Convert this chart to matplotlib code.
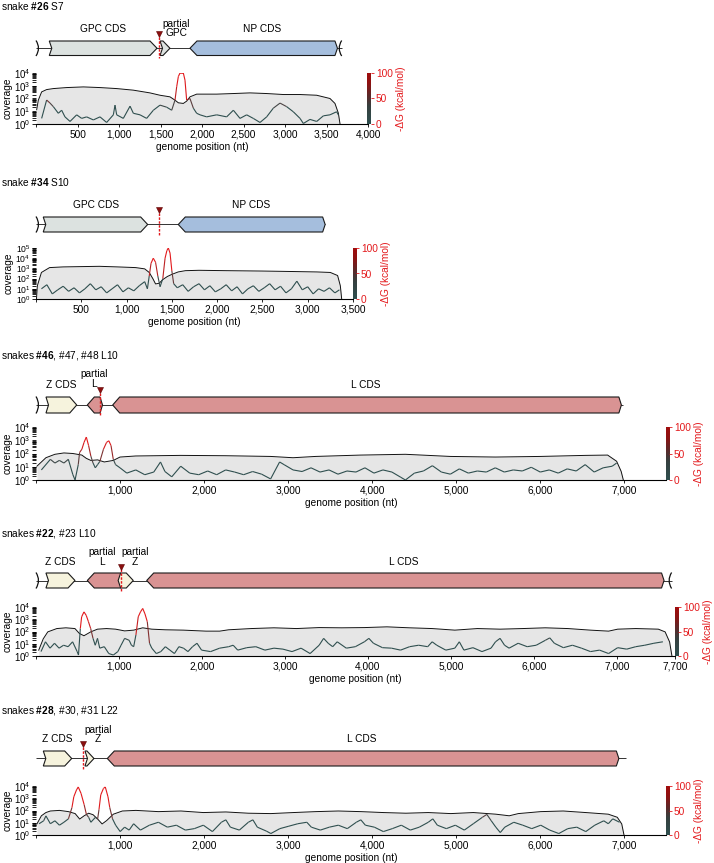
import numpy as np
import matplotlib
matplotlib.use("Agg")
import matplotlib.pyplot as plt
from matplotlib.collections import LineCollection
from matplotlib.colors import LinearSegmentedColormap, Normalize
from matplotlib.patches import Polygon, PathPatch
from matplotlib.path import Path
from matplotlib.ticker import LogLocator, NullFormatter

plt.rcParams['font.family'] = ['Liberation Sans', 'DejaVu Sans']
plt.rcParams['mathtext.fontset'] = 'custom'
plt.rcParams['mathtext.rm'] = 'Liberation Sans'
plt.rcParams['mathtext.bf'] = 'Liberation Sans:bold'
plt.rcParams['mathtext.it'] = 'Liberation Sans:italic'

# ======================= DATA =======================
GPC_C, NP_C, Z_C, L_C = '#dce2e0', '#a5bedd', '#f6f3dd', '#d99393'

# ---- panel 1: snake #26 S7 ----
p1_title = r"snake $\mathbf{\#26}$ S7"
p1_xmax = 4000
p1_ymax = 1e4
p1_xticks = [0, 500, 1000, 1500, 2000, 2500, 3000, 3500, 4000]
p1_xticklabels = ['', '500', '1,000', '1,500', '2,000', '2,500', '3,000', '3,500', '4,000']
p1_cds_start = [160, 1494, 1855]
p1_cds_end = [1458, 1614, 3602]
p1_cds_strand = [1, 1, -1]
p1_cds_colour = [GPC_C, GPC_C, NP_C]
p1_cds_tail = [1, 1, 1]
p1_labels = ['GPC CDS', 'partial\nGPC', 'NP CDS']
p1_label_pos = [809, 1687, 2728]
p1_genome_end = 3683
p1_paren_pos = [0, 3683]
p1_paren_dir = [1, -1]
p1_marker = [1482]
p1_cov_pos = [8, 28, 68, 128, 209, 369, 570, 771, 972, 1173, 1373, 1494, 1614, 1675, 1715,
              1775, 1815, 1855, 1936, 2177, 2378, 2578, 2779, 2980, 3181, 3382, 3542, 3602,
              3643, 3663]
p1_cov_val = [13, 74, 330, 500, 600, 720, 810, 720, 600, 450, 275, 180, 135, 74, 46,
              41, 62, 135, 220, 220, 245, 275, 245, 205, 205, 180, 100, 41, 7, 1]
p1_dg_pos = [68, 128, 169, 209, 269, 309, 349, 410, 490, 550, 610, 691, 771, 851, 932, 952,
             972, 1052, 1133, 1173, 1253, 1333, 1414, 1494, 1574, 1635, 1675, 1695, 1715, 1735,
             1755, 1775, 1795, 1815, 1855, 1896, 1936, 1976, 2056, 2177, 2297, 2378, 2458,
             2538, 2618, 2699, 2779, 2859, 2940, 3020, 3100, 3181, 3221, 3301, 3382, 3462,
             3542, 3622, 3643]
p1_dg_val = [11, 47, 41, 34, 21, 27, 14, 5, 18, 11, 14, 8, 14, 3, 18, 37,
             18, 11, 35, 21, 18, 11, 27, 37, 33, 27, 47, 73, 93, 100,
             99, 100, 86, 47, 50, 31, 21, 18, 14, 18, 14, 27, 11,
             18, 11, 3, 14, 31, 41, 34, 24, 11, 1, 9, 5, 16,
             18, 24, 18]

# ---- panel 2: snake #34 S10 ----
p2_title = r"snake $\mathbf{\#34}$ S10"
p2_xmax = 3500
p2_ymax = 1e5
p2_xticks = [0, 500, 1000, 1500, 2000, 2500, 3000, 3500]
p2_xticklabels = ['', '500', '1,000', '1,500', '2,000', '2,500', '3,000', '3,500']
p2_cds_start = [80, 1571]
p2_cds_end = [1233, 3165]
p2_cds_strand = [1, -1]
p2_cds_colour = [GPC_C, NP_C]
p2_cds_tail = [1, 1]
p2_labels = ['GPC CDS', 'NP CDS']
p2_label_pos = [659, 2370]
p2_genome_end = 3190
p2_paren_pos = [0]
p2_paren_dir = [1]
p2_marker = [1357]
p2_cov_pos = [5, 15, 60, 150, 300, 500, 700, 900, 1100, 1200, 1250, 1290, 1320, 1360, 1400,
              1450, 1500, 1570, 1650, 1800, 2100, 2500, 2800, 3100, 3250, 3330, 3360, 3375]
p2_cov_val = [1, 20, 400, 1200, 1400, 1500, 1600, 1400, 1200, 900, 400, 100, 30, 35, 80,
              160, 260, 450, 600, 650, 600, 550, 500, 450, 400, 200, 20, 1]
p2_dg_pos = [60, 120, 180, 240, 300, 360, 420, 480, 540, 600, 660, 720, 780, 840, 900, 960,
             1020, 1080, 1140, 1200, 1230, 1250, 1270, 1295, 1320, 1345, 1370, 1400, 1425,
             1445, 1461, 1480, 1500, 1520, 1560, 1620, 1680, 1740, 1800, 1860, 1920, 1980,
             2040, 2100, 2160, 2220, 2280, 2340, 2400, 2460, 2520, 2580, 2640, 2700, 2760,
             2820, 2880, 2940, 3000, 3060, 3120, 3180, 3240, 3300, 3350]
p2_dg_val = [20, 28, 10, 18, 25, 15, 22, 12, 20, 30, 18, 24, 12, 20, 28, 14,
             22, 16, 26, 34, 20, 45, 70, 80, 72, 45, 24, 40, 80,
             95, 100, 90, 55, 30, 22, 28, 15, 24, 30, 18, 26, 14,
             20, 28, 16, 24, 10, 20, 26, 15, 22, 30, 18, 25, 12,
             20, 35, 18, 24, 10, 20, 15, 22, 12, 18]

# ---- panel 3: snakes #46, #47, #48 L10 ----
p3_title = r"snakes $\mathbf{\#46}$, #47, #48 L10"
p3_xmax = 7500
p3_ymax = 1e4
p3_xticks = [0, 1000, 2000, 3000, 4000, 5000, 6000, 7000]
p3_xticklabels = ['', '1,000', '2,000', '3,000', '4,000', '5,000', '6,000', '7,000']
p3_cds_start = [119, 611, 913]
p3_cds_end = [485, 762, 6939]
p3_cds_strand = [1, -1, -1]
p3_cds_colour = [Z_C, L_C, L_C]
p3_cds_tail = [1, 1, 1]
p3_labels = ['Z CDS', 'partial\nL', 'L CDS']
p3_label_pos = [295, 690, 3926]
p3_genome_end = 6992
p3_paren_pos = [0]
p3_paren_dir = [1]
p3_marker = [762]
p3_cov_pos = [11, 118, 225, 332, 439, 546, 599, 653, 733, 813, 920, 1000, 1188, 1723, 2258,
              2793, 3060, 3328, 3863, 4398, 4933, 5468, 6003, 6538, 6805, 6912, 6966, 6992]
p3_cov_val = [11, 48, 87, 110, 100, 76, 43, 30, 33, 23, 30, 54, 65, 72, 68,
              60, 48, 60, 76, 87, 60, 54, 60, 72, 76, 26, 4.5, 1]
p3_dg_pos = [64, 171, 225, 278, 332, 385, 439, 465, 503, 519, 546, 572, 599, 626, 653, 679,
             706, 733, 760, 803, 840, 867, 893, 920, 947, 1000, 1081, 1188, 1295, 1402, 1482,
             1535, 1616, 1723, 1830, 1937, 2044, 2151, 2258, 2365, 2472, 2579, 2686, 2793,
             2900, 2953, 3060, 3167, 3274, 3381, 3488, 3595, 3702, 3809, 3916, 4023, 4130,
             4237, 4344, 4398, 4505, 4612, 4719, 4826, 4933, 5040, 5147, 5254, 5361, 5468,
             5575, 5682, 5789, 5896, 6003, 6110, 6217, 6324, 6431, 6538, 6645, 6752, 6859,
             6912]
p3_dg_val = [19, 39, 32, 37, 32, 39, 10, 0, 29, 52, 58, 71, 81, 65, 45, 32,
             23, 29, 35, 58, 71, 74, 65, 39, 29, 23, 13, 19, 10, 15, 34,
             16, 6, 26, 13, 10, 17, 10, 19, 15, 10, 16, 11, 2,
             34, 29, 19, 16, 23, 15, 19, 11, 17, 15, 23, 13, 19,
             15, 5, 0, 13, 17, 27, 15, 11, 21, 13, 17, 15, 23,
             15, 19, 17, 24, 15, 19, 13, 21, 17, 29, 15, 23, 26,
             32]

# ---- panel 4: snakes #22, #23 L10 ----
p4_title = r"snakes $\mathbf{\#22}$, #23 L10"
p4_xmax = 7700
p4_ymax = 1e4
p4_xticks = [0, 1000, 2000, 3000, 4000, 5000, 6000, 7000, 7700]
p4_xticklabels = ['', '1,000', '2,000', '3,000', '4,000', '5,000', '6,000', '7,000', '7,700']
p4_cds_start = [120, 618, 1020, 1334]
p4_cds_end = [470, 1020, 1172, 7538]
p4_cds_strand = [1, -1, 1, -1]
p4_cds_colour = [Z_C, L_C, Z_C, L_C]
p4_cds_tail = [1, 1, -1, 1]
p4_labels = ['Z CDS', 'partial\nL', 'partial\nZ', 'L CDS']
p4_label_pos = [295, 799, 1193, 4436]
p4_genome_end = 7659
p4_paren_pos = [0, 7659]
p4_paren_dir = [1, -1]
p4_marker = [1020]
p4_cov_pos = [33, 87, 142, 251, 360, 469, 523, 578, 659, 741, 850, 959, 1068, 1177, 1286,
              1395, 1559, 1777, 2049, 2213, 2322, 2594, 2867, 3139, 3412, 3684, 3957, 4229,
              4502, 4774, 5047, 5319, 5592, 5864, 6137, 6409, 6682, 6900, 7009, 7227, 7499,
              7581, 7635, 7663]
p4_cov_val = [3, 25, 93, 174, 200, 174, 69, 45, 93, 155, 174, 155, 112, 129, 200,
              155, 138, 129, 107, 107, 138, 174, 200, 174, 209, 200, 209, 240,
              200, 174, 129, 174, 155, 174, 200, 174, 129, 107, 155, 174, 155,
              93, 14, 1]
p4_dg_pos = [60, 114, 169, 223, 278, 332, 387, 441, 496, 512, 534, 550, 578, 605, 632, 659,
             687, 714, 741, 768, 823, 877, 932, 986, 1025, 1068, 1123, 1150, 1177, 1204,
             1232, 1259, 1286, 1313, 1341, 1368, 1395, 1450, 1504, 1559, 1613, 1668, 1722,
             1777, 1831, 1886, 1940, 1995, 2104, 2213, 2322, 2376, 2431, 2540, 2649, 2758,
             2867, 2976, 3085, 3194, 3303, 3412, 3466, 3521, 3575, 3630, 3739, 3848, 3957,
             4011, 4066, 4175, 4284, 4393, 4502, 4611, 4720, 4774, 4829, 4938, 5047, 5101,
             5156, 5265, 5374, 5483, 5537, 5592, 5646, 5701, 5810, 5919, 6028, 6137, 6191,
             6246, 6355, 6464, 6573, 6682, 6791, 6900, 7009, 7118, 7227, 7336, 7445, 7554]
p4_dg_val = [9, 29, 16, 26, 16, 22, 19, 29, 9, 2, 56, 80, 90, 83, 70, 56,
             36, 22, 36, 16, 19, 5, 2, 9, 22, 36, 32, 22, 19, 43,
             80, 90, 97, 86, 70, 26, 16, 5, 9, 19, 12, 5, 19,
             16, 9, 19, 26, 12, 9, 16, 19, 22, 12, 17, 19, 12,
             16, 14, 9, 16, 5, 22, 36, 26, 19, 29, 16, 19, 29,
             36, 26, 17, 16, 12, 19, 22, 19, 29, 22, 12, 16, 29,
             12, 17, 9, 16, 29, 36, 22, 16, 26, 19, 22, 32, 37,
             26, 17, 22, 16, 9, 12, 5, 17, 14, 19, 22, 26, 29]

# ---- panel 5: snakes #28, #30, #31 L22 ----
p5_title = r"snakes $\mathbf{\#28}$, #30, #31 L22"
p5_xmax = 7500
p5_ymax = 1e4
p5_xticks = [0, 1000, 2000, 3000, 4000, 5000, 6000, 7000]
p5_xticklabels = ['', '1,000', '2,000', '3,000', '4,000', '5,000', '6,000', '7,000']
p5_cds_start = [87, 583, 849]
p5_cds_end = [425, 690, 6909]
p5_cds_strand = [1, 1, -1]
p5_cds_colour = [Z_C, Z_C, L_C]
p5_cds_tail = [1, 1, 1]
p5_labels = ['Z CDS', 'partial\nZ', 'L CDS']
p5_label_pos = [256, 735, 3879]
p5_genome_end = 7027
p5_paren_pos = []
p5_paren_dir = []
p5_marker = [563]
p5_cov_pos = [11, 64, 118, 171, 279, 386, 466, 520, 573, 627, 680, 734, 787, 841, 921, 1028,
              1189, 1457, 1725, 1992, 2260, 2528, 2796, 3064, 3331, 3599, 3867, 4135, 4403,
              4670, 4938, 5206, 5474, 5634, 5742, 6009, 6277, 6545, 6813, 6920, 6973, 7000]
p5_cov_val = [8, 37, 68, 91, 102, 81, 56, 20, 37, 60, 45, 20, 8, 15, 50, 91,
              102, 81, 91, 68, 76, 60, 56, 68, 81, 91, 81, 68, 60,
              68, 56, 68, 50, 37, 56, 81, 91, 68, 50, 28, 8, 1]
p5_dg_pos = [37, 91, 118, 171, 225, 279, 332, 386, 428, 450, 482, 503, 536, 573, 600, 627,
             653, 707, 734, 750, 771, 803, 825, 857, 878, 911, 948, 1002, 1055, 1109, 1162,
             1243, 1350, 1457, 1564, 1671, 1778, 1885, 1992, 2100, 2207, 2260, 2314, 2421,
             2528, 2582, 2635, 2742, 2796, 2903, 3010, 3117, 3224, 3278, 3385, 3492, 3599,
             3706, 3813, 3867, 3921, 4028, 4135, 4242, 4349, 4456, 4563, 4670, 4724, 4778,
             4885, 4992, 5099, 5206, 5313, 5367, 5420, 5474, 5527, 5581, 5688, 5795, 5902,
             6009, 6116, 6224, 6331, 6438, 6545, 6652, 6759, 6813, 6866, 6947]
p5_dg_val = [23, 29, 39, 23, 29, 20, 26, 33, 56, 78, 92, 98, 85, 62, 42, 36,
             26, 36, 33, 52, 82, 95, 98, 78, 56, 33, 20, 7, 16, 10, 23,
             10, 20, 26, 16, 20, 10, 13, 20, 7, 26, 31, 16, 10,
             26, 31, 16, 8, 3, 13, 18, 23, 26, 16, 10, 16, 20,
             13, 26, 31, 20, 16, 7, 13, 20, 10, 16, 26, 33, 20,
             13, 20, 10, 23, 36, 42, 29, 16, 5, 16, 26, 20, 13,
             20, 10, 3, 13, 16, 7, 20, 29, 23, 33, 26]

# ======================= LAYOUT (pixels) =======================
W, H = 714, 863
FS = 7.3
YFS = [6.9, 6.2, 6.9, 6.9, 6.9]
RED = '#e3191c'
LAYOUT = [
    dict(x0=36, x1=368, title=6, label_ys=[28.5, 28.5, 28.5], at=41, ab=55.5, ct=73, cb=124),
    dict(x0=36, x1=353, title=182, label_ys=[205, 205], at=217, ab=232, ct=248, cb=299),
    dict(x0=36, x1=666, title=355, label_ys=[385, 379, 385], at=397, ab=413, ct=427, cb=480),
    dict(x0=36, x1=675, title=533, label_ys=[562, 557, 557, 562], at=573, ab=588, ct=607, cb=656),
    dict(x0=36, x1=666, title=710, label_ys=[739, 734.5, 739], at=751, ab=766, ct=786, cb=835),
]

g = globals()
PANELS = []
for i in range(1, 6):
    keys = ['title', 'xmax', 'ymax', 'xticks', 'xticklabels', 'cds_start', 'cds_end', 'cds_strand',
            'cds_colour', 'cds_tail', 'labels', 'label_pos', 'genome_end', 'paren_pos', 'paren_dir',
            'marker', 'cov_pos', 'cov_val', 'dg_pos', 'dg_val']
    PANELS.append({k: g[f'p{i}_{k}'] for k in keys})

cmap = LinearSegmentedColormap.from_list(
    'dg', [(0, '#2f4f4f'), (0.32, '#2f4f4f'), (0.5, '#8e2b2b'), (0.68, '#e3191c'), (1, '#e3191c')])
cbar_cmap = LinearSegmentedColormap.from_list(
    'dgbar', [(0, '#2f4f4f'), (0.35, '#36403f'), (0.55, '#5a2a2a'), (0.8, '#8e1212'), (1, '#a00d0d')])
norm = Normalize(0, 100)

fig = plt.figure(figsize=(W / 100, H / 100), dpi=100)


def fig_rect(x0, y0, x1, y1):
    return [x0 / W, 1 - y1 / H, (x1 - x0) / W, (y1 - y0) / H]


def cds_poly(start, end, strand, tail, top, bot, head, notch):
    mid = (top + bot) / 2
    if strand > 0:
        hx = max(end - head, start)
        return [(start, top), (hx, top), (end, mid), (hx, bot), (start, bot), (start + tail * notch, mid)]
    hx = min(start + head, end)
    return [(start, mid), (hx, top), (end, top), (end + tail * notch, mid), (end, bot), (hx, bot)]


def draw_panel(D, L, yfs):
    x0, x1, xmax = L['x0'], L['x1'], D['xmax']
    ntpx = xmax / (x1 - x0)
    fig.text(1 / W, 1 - L['title'] / H, D['title'], fontsize=FS, ha='left', va='center')

    # ---- gene map ----
    gt, gb = min(L['label_ys']) - 14, L['ab'] + 8
    gax = fig.add_axes(fig_rect(x0, gt, x1, gb))
    gax.set_xlim(0, xmax)
    gax.set_ylim(gb, gt)
    gax.axis('off')
    top, bot = L['at'], L['ab']
    mid = (top + bot) / 2
    gax.plot([0, D['genome_end']], [mid, mid], color='#333333', lw=0.7,
             solid_capstyle='butt', zorder=1)
    d = 2.5 * ntpx
    for xp, sd in zip(D['paren_pos'], D['paren_dir']):
        path = Path([(xp, top - 0.5), (xp + sd * 2 * d, mid), (xp, bot + 0.5)],
                    [Path.MOVETO, Path.CURVE3, Path.CURVE3])
        gax.add_patch(PathPatch(path, fc='none', ec='#111111', lw=0.9, clip_on=False, zorder=3))
    for s, e, st, c, t in zip(D['cds_start'], D['cds_end'], D['cds_strand'],
                              D['cds_colour'], D['cds_tail']):
        poly = cds_poly(s, e, st, t, top, bot, 7 * ntpx, 2.5 * ntpx)
        gax.add_patch(Polygon(poly, closed=True, fc=c, ec='#1a1a1a', lw=0.8,
                              joinstyle='miter', zorder=2))
    for txt, xp, yp in zip(D['labels'], D['label_pos'], L['label_ys']):
        gax.text(xp, yp, txt, ha='center', va='center', fontsize=FS, linespacing=0.95)
    for m in D['marker']:
        gax.plot([m, m], [top - 4, bot + 3], color=RED, lw=1.0, ls=(0, (1.8, 1.0)), zorder=4)
        gax.plot(m, top - 6.5, marker='v', ms=5, color='#8b0f0f', mec='#5c0000',
                 mew=0.4, zorder=5, clip_on=False)

    # ---- coverage ----
    ax = fig.add_axes(fig_rect(x0, L['ct'], x1, L['cb']))
    ax.set_xlim(0, xmax)
    ax.set_yscale('log')
    ax.set_ylim(1, D['ymax'])
    ax.fill_between(D['cov_pos'], D['cov_val'], 1, color='#e6e6e6', lw=0, zorder=1)
    ax.plot(D['cov_pos'], D['cov_val'], color='#111111', lw=0.7, zorder=2)
    for s in ('top', 'right', 'left'):
        ax.spines[s].set_visible(False)
    ax.spines['bottom'].set_linewidth(0.8)
    ax.set_xticks(D['xticks'])
    ax.set_xticklabels(D['xticklabels'])
    ax.tick_params(axis='x', direction='out', length=2.5, width=0.6, pad=1.5, labelsize=FS)
    ax.yaxis.set_major_locator(LogLocator(base=10, numticks=10))
    ax.yaxis.set_minor_locator(LogLocator(base=10, subs=np.arange(2, 10), numticks=10))
    ax.yaxis.set_minor_formatter(NullFormatter())
    ax.tick_params(axis='y', which='both', direction='out', length=3, width=0.6, pad=1,
                   labelsize=yfs)
    ax.set_ylabel('coverage', fontsize=FS, labelpad=1)
    ax.set_xlabel('genome position (nt)', fontsize=FS, labelpad=1.5)

    ax2 = ax.twinx()
    ax2.set_xlim(0, xmax)
    ax2.set_ylim(0, 100)
    ax2.axis('off')
    pts = np.column_stack([D['dg_pos'], D['dg_val']]).astype(float)
    segs = np.stack([pts[:-1], pts[1:]], axis=1)
    lc = LineCollection(segs, cmap=cmap, norm=norm, lw=0.8)
    lc.set_array((pts[:-1, 1] + pts[1:, 1]) / 2)
    ax2.add_collection(lc)

    # ---- colour bar ----
    cax = fig.add_axes(fig_rect(x1 - 0.5, L['ct'], x1 + 3, L['cb']))
    grad = np.linspace(0, 100, 256).reshape(-1, 1)
    cax.imshow(grad, aspect='auto', cmap=cbar_cmap, norm=norm, origin='lower',
               extent=[0, 1, 0, 100])
    cax.set_xticks([])
    cax.yaxis.tick_right()
    cax.set_yticks([0, 50, 100])
    cax.tick_params(axis='y', length=2, width=0.6, pad=1.5, labelsize=FS, colors=RED)
    for s in cax.spines.values():
        s.set_visible(False)
    cax.yaxis.set_label_position('right')
    cax.set_ylabel('-\u0394G (kcal/mol)', color=RED, fontsize=FS, labelpad=2)


for D, L, yfs in zip(PANELS, LAYOUT, YFS):
    draw_panel(D, L, yfs)

fig.savefig('out.png', dpi=100)
